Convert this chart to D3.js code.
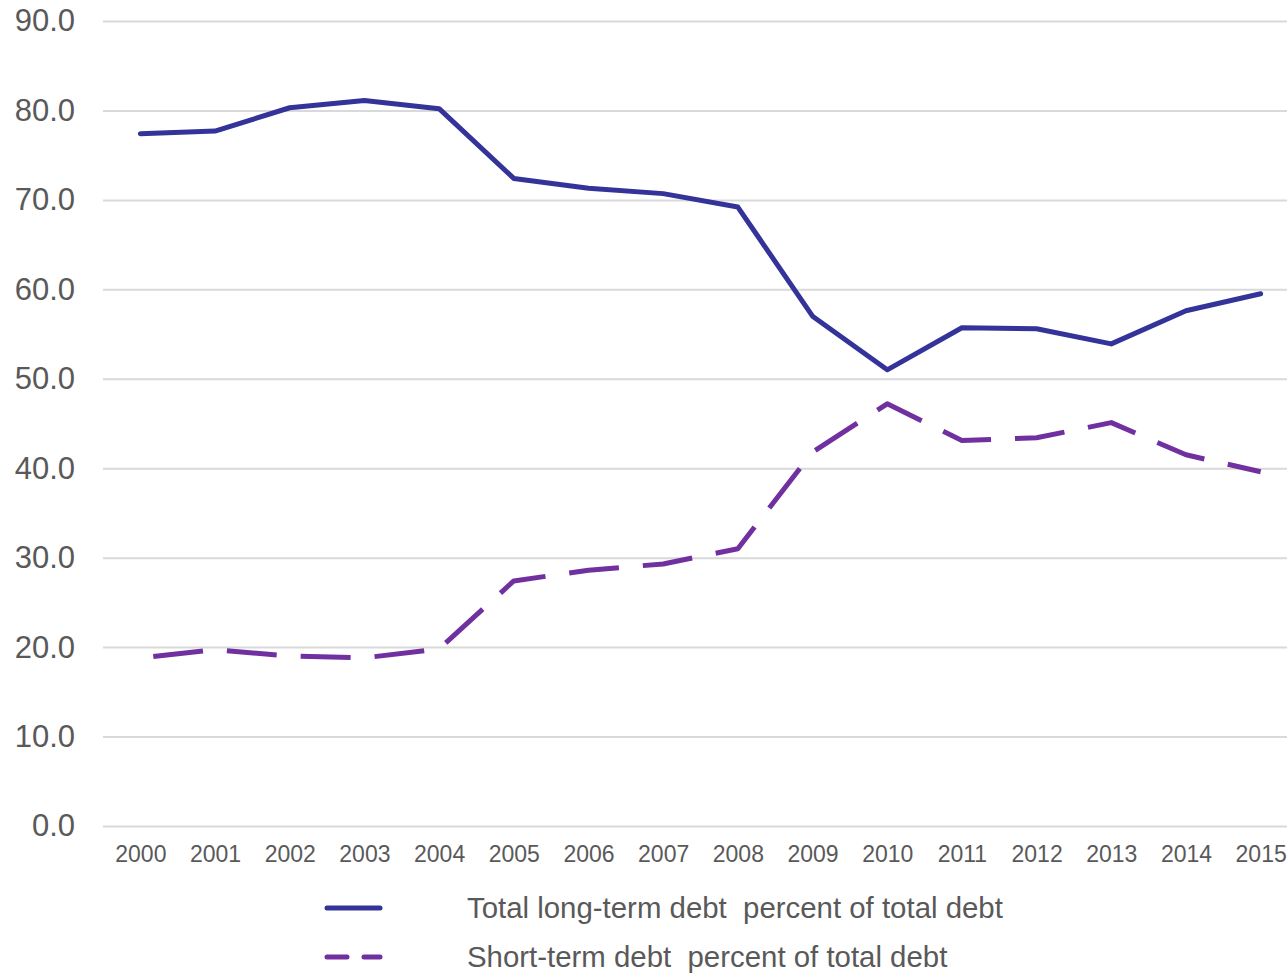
<!DOCTYPE html>
<html>
<head>
<meta charset="utf-8">
<script src="https://cdn.jsdelivr.net/npm/d3@7"></script>
<style>
  html, body { margin: 0; padding: 0; background: #fff; overflow: hidden; }
  svg { display: block; font-family: "Liberation Sans", Arial, sans-serif; }
</style>
</head>
<body>
<svg id="chart" width="1287" height="974"></svg>
<script>
// Debt structure, 2000–2015 (percent of total debt)
const years = ["2000","2001","2002","2003","2004","2005","2006","2007",
               "2008","2009","2010","2011","2012","2013","2014","2015"];
const longTermDebt = [77.4, 77.7, 80.3, 81.1, 80.2, 72.4, 71.3, 70.7,
                      69.2, 57.0, 51.0, 55.7, 55.6, 53.9, 57.6, 59.5];
const shortTermDebt = [18.8, 19.7, 19.0, 18.8, 19.8, 27.4, 28.6, 29.3,
                       31.0, 41.8, 47.2, 43.1, 43.4, 45.1, 41.5, 39.6];
const yTicks = [0, 10, 20, 30, 40, 50, 60, 70, 80, 90];
const seriesNames = ["Total long-term debt  percent of total debt",
                     "Short-term debt  percent of total debt"];

const svg = d3.select("#chart");
const plot = { left: 103, right: 1298, top: 21, bottom: 826 };

const x = d3.scalePoint().domain(years).range([plot.left, plot.right]).padding(0.5);
const y = d3.scaleLinear().domain([0, 90]).range([plot.bottom, plot.top]);

// Horizontal gridlines with value labels
const yAxis = svg.append("g")
  .attr("transform", `translate(${plot.left},0)`)
  .call(d3.axisLeft(y).tickValues(yTicks)
          .tickSize(-(plot.right - plot.left))
          .tickPadding(28)
          .tickFormat(d3.format(".1f")));
yAxis.select(".domain").remove();
yAxis.selectAll("line").attr("stroke", "#d9d9d9").attr("stroke-width", 2);
yAxis.selectAll("text").attr("fill", "#595959").attr("font-size", 31)
  .attr("font-family", "Liberation Sans, Arial, sans-serif");

// Year labels
const xAxis = svg.append("g")
  .attr("transform", `translate(0,${plot.bottom})`)
  .call(d3.axisBottom(x).tickSize(0).tickPadding(20));
xAxis.select(".domain").remove();
xAxis.selectAll("text").attr("fill", "#595959").attr("font-size", 23)
  .attr("font-family", "Liberation Sans, Arial, sans-serif");

const line = d3.line().x((d, i) => x(years[i])).y(d => y(d));

svg.append("path")
  .datum(longTermDebt)
  .attr("d", line)
  .attr("fill", "none")
  .attr("stroke", "#333399")
  .attr("stroke-width", 5)
  .attr("stroke-linejoin", "round")
  .attr("stroke-linecap", "round");

svg.append("path")
  .datum(shortTermDebt)
  .attr("d", line)
  .attr("fill", "none")
  .attr("stroke", "#7030a0")
  .attr("stroke-width", 5)
  .attr("stroke-linejoin", "round")
  .attr("stroke-dasharray", "50,24")
  .attr("stroke-dashoffset", 61);

// Legend
const legend = svg.append("g");
const rows = [
  { name: seriesNames[0], color: "#333399", dash: null, cy: 908 },
  { name: seriesNames[1], color: "#7030a0", dash: "20,17", cy: 957 }
];
rows.forEach(r => {
  legend.append("line")
    .attr("x1", 327).attr("x2", 380)
    .attr("y1", r.cy).attr("y2", r.cy)
    .attr("stroke", r.color)
    .attr("stroke-width", 5)
    .attr("stroke-linecap", "round")
    .attr("stroke-dasharray", r.dash);
  legend.append("text")
    .attr("x", 467).attr("y", r.cy + 10)
    .attr("fill", "#595959")
    .attr("font-size", 29.4)
    .style("white-space", "pre")
    .attr("xml:space", "preserve")
    .text(r.name);
});
</script>
</body>
</html>
